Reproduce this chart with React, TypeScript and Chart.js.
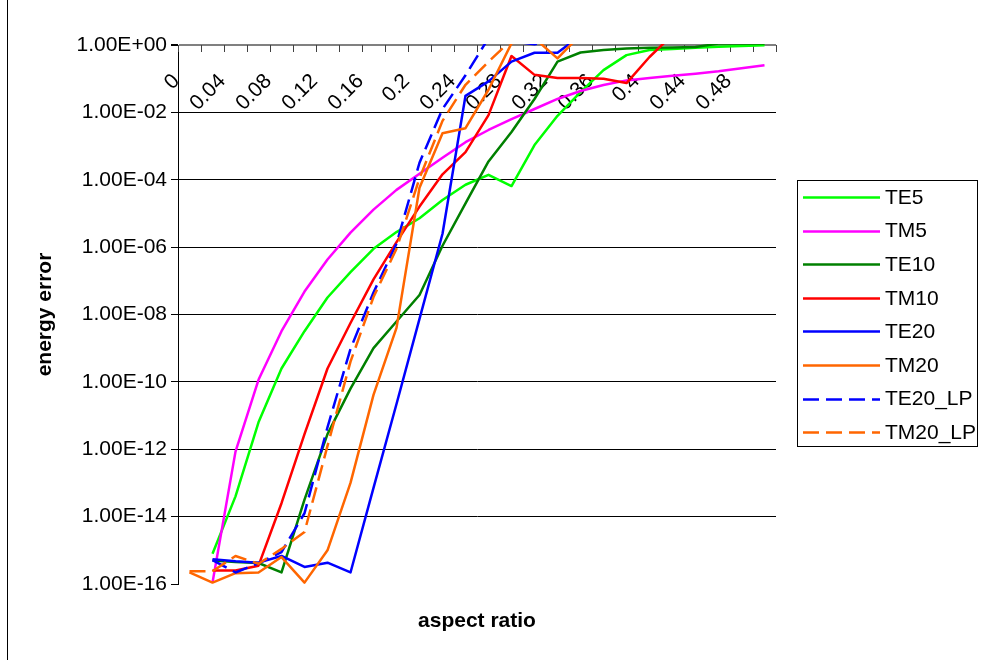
import React, { useEffect, useRef } from "react";
import { Chart, registerables } from "chart.js";

Chart.register(...registerables);

const FONT = "'Liberation Sans', Arial, Helvetica, sans-serif";
const FS = 21;

const categories = [
  "0", "0.02", "0.04", "0.06", "0.08", "0.1", "0.12", "0.14", "0.16", "0.18",
  "0.2", "0.22", "0.24", "0.26", "0.28", "0.3", "0.32", "0.34", "0.36", "0.38",
  "0.4", "0.42", "0.44", "0.46", "0.48", "0.5",
];

const yTickValues = [1e-16, 1e-14, 1e-12, 1e-10, 1e-8, 1e-6, 1e-4, 1e-2, 1];

const TE5 = [null, 7.9e-16, 4.0e-14, 6.3e-12, 2.5e-10, 3.2e-9, 3.2e-8, 1.8e-7, 8.9e-7, 2.8e-6,
  7.2e-6, 2.5e-5, 7.1e-5, 1.4e-4, 6.5e-5, 1.07e-3, 7.9e-3, 4.0e-2, 0.18, 0.5,
  0.71, 0.76, 0.83, 0.89, 0.93, 0.98];
const TM5 = [null, 1.1e-16, 8.5e-13, 1.15e-10, 3.2e-9, 4.8e-8, 4.3e-7, 2.7e-6, 1.3e-5, 5.0e-5,
  1.5e-4, 4.5e-4, 1.3e-3, 3.0e-3, 6.3e-3, 1.26e-2, 2.5e-2, 4.3e-2, 6.5e-2, 8.9e-2,
  0.105, 0.123, 0.141, 0.166, 0.204, 0.25];
const TE10 = [null, 5.0e-16, 4.5e-16, 4.2e-16, 2.2e-16, 3.2e-14, 2.8e-12, 6.3e-11, 1.0e-9, 6.2e-9,
  3.8e-8, 1.1e-6, 2.0e-5, 3.5e-4, 2.6e-3, 2.5e-2, 0.32, 0.6, 0.71, 0.79,
  0.83, 0.85, 0.87, 1.1, 1.1, 1.1];
const TM10 = [null, 2.5e-16, 2.5e-16, 3.5e-16, 2.5e-14, 2.8e-12, 2.5e-10, 5.6e-9, 1.1e-7, 1.4e-6,
  1.6e-5, 1.45e-4, 6.6e-4, 8.3e-3, 0.47, 0.13, 0.105, 0.105, 0.1, 0.074,
  0.44, 2.0, 2.0, 2.0, 2.0, 2.0];
const TE20 = [null, 5.4e-16, 4.7e-16, 4.3e-16, 6.8e-16, 3.2e-16, 4.3e-16, 2.2e-16, 7.1e-14, 2.2e-11,
  7.4e-9, 2.5e-6, 3.1e-2, 8.3e-2, 0.32, 0.59, 0.59, 1.9, 2.0, 2.0,
  2.0, 2.0, 2.0, 2.0, 2.0, 2.0];
const TM20 = [2.2e-16, 1.1e-16, 2.1e-16, 2.2e-16, 6.3e-16, 1.1e-16, 1.0e-15, 1.0e-13, 4.1e-11, 4.0e-9,
  5.8e-5, 2.4e-3, 3.4e-3, 4.7e-2, 1.12, 1.6, 0.4, 2.0, 2.0, 2.0,
  2.0, 2.0, 2.0, 2.0, 2.0, 2.0];
const TE20_LP = [null, 5.1e-16, 2.2e-16, 4.1e-16, 8.9e-16, 1.26e-14, 4.5e-12, 9.5e-10, 4.5e-8, 1.26e-6,
  3.2e-4, 1.26e-2, 0.126, 1.6, 1.3, 1.05, 1.5, 1.5, 1.5, 1.5,
  1.5, 1.5, 1.5, 1.5, 1.5, 1.5];
const TM20_LP = [2.4e-16, 2.4e-16, 6.8e-16, 4.0e-16, 1.1e-15, 3.5e-15, 1.26e-12, 4.0e-10, 3.3e-8, 8.9e-7,
  1.1e-4, 5.6e-3, 6.6e-2, 0.32, 1.4, 2.0, 2.0, 2.0, 2.0, 2.0,
  2.0, 2.0, 2.0, 2.0, 2.0, 2.0];

const seriesNames = ["TE5", "TM5", "TE10", "TM10", "TE20", "TM20", "TE20_LP", "TM20_LP"];
const seriesData = [TE5, TM5, TE10, TM10, TE20, TM20, TE20_LP, TM20_LP];
const seriesColors = ["#00FF00", "#FF00FF", "#008000", "#FF0000", "#0000FF", "#FF6600", "#0000FF", "#FF6600"];
const seriesDashed = [false, false, false, false, false, false, true, true];

const DASH = [16, 7];

function fmtExp(v: number): string {
  const e = Math.round(Math.log10(v));
  const m = v / Math.pow(10, e);
  return m.toFixed(2) + "E" + (e < 0 ? "-" : "+") + String(Math.abs(e)).padStart(2, "0");
}

const overlayPlugin = {
  id: "overlay",
  beforeDatasetsDraw(chart: any) {
    const { ctx, chartArea, scales } = chart;
    const xs = scales.x;
    const w = (chartArea.right - chartArea.left) / categories.length;
    ctx.save();
    ctx.strokeStyle = "#404040";
    ctx.lineWidth = 1;
    ctx.beginPath();
    for (let k = 0; k <= categories.length; k++) {
      const px = Math.round(chartArea.left + k * w) + 0.5;
      ctx.moveTo(px, chartArea.top);
      ctx.lineTo(px, chartArea.top + 7);
    }
    ctx.stroke();
    ctx.font = FS + "px " + FONT;
    ctx.fillStyle = "#000";
    ctx.textAlign = "right";
    ctx.textBaseline = "middle";
    categories.forEach((c, i) => {
      if (i % 2 !== 0) return;
      const cx = xs.getPixelForValue(i);
      ctx.save();
      ctx.translate(cx - 13, chartArea.top + 33);
      ctx.rotate(-Math.PI / 4);
      ctx.fillText(c, 0, 0);
      ctx.restore();
    });
    ctx.restore();
  },
  afterDraw(chart: any) {
    const { ctx, chartArea } = chart;
    ctx.save();
    ctx.strokeStyle = "#000";
    ctx.lineWidth = 1;
    ctx.beginPath();
    ctx.moveTo(7.5, 0);
    ctx.lineTo(7.5, 660);
    ctx.stroke();
    ctx.font = "bold " + FS + "px " + FONT;
    ctx.fillStyle = "#000";
    ctx.textAlign = "center";
    ctx.textBaseline = "middle";
    ctx.fillText("aspect ratio", (chartArea.left + chartArea.right) / 2, 621);
    ctx.strokeStyle = "#000";
    ctx.lineWidth = 1;
    ctx.strokeRect(797.5, 180.5, 180, 266);
    ctx.font = FS + "px " + FONT;
    ctx.textAlign = "left";
    chart.data.datasets.forEach((ds: any, i: number) => {
      const y = 197 + i * 33.6;
      ctx.save();
      ctx.strokeStyle = ds.borderColor;
      ctx.lineWidth = ds.borderWidth;
      ctx.setLineDash(ds.borderDash || []);
      ctx.beginPath();
      ctx.moveTo(803, Math.round(y) + 0.5);
      ctx.lineTo(880, Math.round(y) + 0.5);
      ctx.stroke();
      ctx.restore();
      ctx.fillStyle = "#000";
      ctx.fillText(ds.label, 885, y + 1);
    });
    ctx.restore();
  },
};

export default function App() {
  const ref = useRef<HTMLCanvasElement | null>(null);

  useEffect(() => {
    if (!ref.current) return;
    const n = seriesNames.length;
    const chart = new Chart(ref.current, {
      type: "line",
      data: {
        labels: categories,
        datasets: seriesNames.map((name, i) => ({
          label: name,
          data: seriesData[i],
          borderColor: seriesColors[i],
          backgroundColor: seriesColors[i],
          borderWidth: 2.5,
          borderDash: seriesDashed[i] ? DASH : [],
          pointRadius: 0,
          pointHoverRadius: 0,
          tension: 0,
          fill: false,
          borderJoinStyle: "round",
          clip: 1,
          order: n - i,
        })),
      },
      options: {
        responsive: false,
        animation: false,
        devicePixelRatio: 1,
        layout: { padding: { left: 8, right: 207, top: 45, bottom: 76 } },
        plugins: {
          legend: { display: false },
          tooltip: { enabled: false },
          title: { display: false },
        },
        scales: {
          x: {
            type: "category",
            display: false,
            offset: true,
          },
          y: {
            type: "logarithmic",
            min: 1e-16,
            max: 1,
            afterBuildTicks: (s: any) => {
              s.ticks = yTickValues.map((v) => ({ value: v }));
            },
            afterFit: (s: any) => {
              s.width = 170;
            },
            ticks: {
              autoSkip: false,
              color: "#000",
              padding: 4,
              font: { family: FONT, size: FS },
              callback: (v: any) => fmtExp(Number(v)),
            },
            grid: {
              color: (c: any) => {
                const v = c.tick ? c.tick.value : 0;
                if (v <= 1.5e-16) return "rgba(0,0,0,0)";
                if (v >= 0.99) return "#808080";
                return "#000";
              },
              lineWidth: (c: any) => (c.tick && c.tick.value >= 0.99 ? 2 : 1),
              tickColor: "#000",
              tickLength: 7,
            },
            border: { display: true, color: "#000", width: 1 },
            title: {
              display: true,
              text: "energy error",
              color: "#000",
              font: { family: FONT, size: FS, weight: "bold" },
              padding: { top: 25, bottom: 0 },
            },
          },
        },
      },
      plugins: [overlayPlugin],
    } as any);
    return () => chart.destroy();
  }, []);

  return (
    <div style={{ position: "absolute", left: 0, top: 0, width: 983, height: 660, background: "#fff" }}>
      <canvas ref={ref} width={983} height={660} style={{ display: "block" }} />
    </div>
  );
}
